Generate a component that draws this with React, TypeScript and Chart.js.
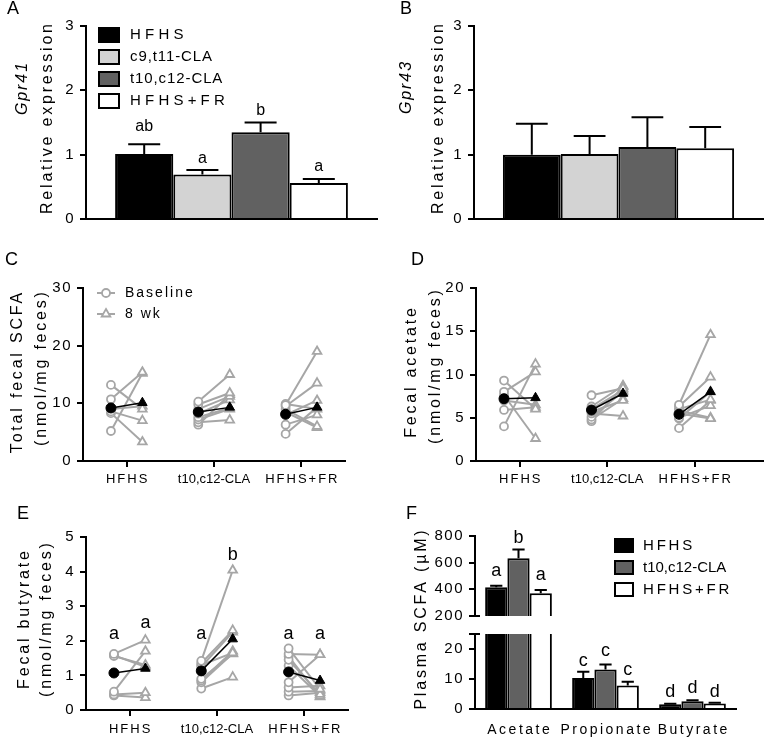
import React, { useEffect, useRef } from 'react';
import { Chart, registerables } from 'chart.js';

Chart.register(...registerables);

const FONT = '"Liberation Sans", Arial, Helvetica, sans-serif';
const INK = '#000000';
const SUBJECT_GREY = '#a6a6a6';
const OFFSET = 0.18;

// ---------- A & B: receptor expression ----------
const receptorGroups = ['HFHS', 'c9,t11-CLA', 't10,c12-CLA', 'HFHS+FR'];
const receptorColors = ['#000000', '#d3d3d3', '#616161', '#ffffff'];
const gpr41Mean = [1.01, 0.69, 1.35, 0.56];
const gpr41Sem = [0.15, 0.07, 0.15, 0.06];
const gpr41Letters = ['ab', 'a', 'b', 'a'];
const gpr41LetterY = [1.37, 0.87, 1.62, 0.74];
const gpr43Mean = [1.0, 1.01, 1.12, 1.1];
const gpr43Sem = [0.48, 0.28, 0.46, 0.33];
const expressionTicks = [0, 1, 2, 3];

// ---------- C, D, E: fecal SCFA, baseline vs 8 wk ----------
const fecalGroups = ['HFHS', 't10,c12-CLA', 'HFHS+FR'];
const timePoints = ['Baseline', '8 wk'];

const totalBaseline = [
  [13.2, 10.7, 8.6, 8.3, 5.2, 9.0],
  [10.3, 9.8, 9.0, 8.2, 7.6, 7.2, 6.7, 6.3],
  [9.7, 9.5, 8.0, 9.0, 6.3, 4.7, 8.5, 9.9],
];
const totalWeek8 = [
  [9.0, 15.4, 7.0, 3.3, 15.2, 9.5],
  [15.0, 11.8, 11.2, 10.6, 9.2, 9.0, 7.1, 11.5],
  [19.0, 13.5, 10.5, 6.0, 8.0, 9.3, 5.8, 9.0],
];
const totalMeanBaseline = [9.2, 8.5, 8.1];
const totalMeanWeek8 = [10.1, 9.3, 9.3];
const totalTicks = [0, 10, 20, 30];

const acetateBaseline = [
  [9.3, 8.0, 7.6, 5.9, 4.0, 7.0],
  [7.6, 6.3, 6.0, 5.7, 5.5, 5.1, 4.8, 4.6],
  [6.5, 6.3, 6.0, 5.5, 5.0, 3.8, 5.8, 4.9],
];
const acetateWeek8 = [
  [6.0, 10.3, 2.6, 6.2, 11.2, 6.5],
  [8.4, 8.7, 8.2, 7.0, 5.2, 8.0, 7.2, 8.6],
  [14.6, 9.7, 7.1, 4.9, 6.4, 7.0, 5.0, 8.0],
];
const acetateMeanBaseline = [7.2, 5.9, 5.4];
const acetateMeanWeek8 = [7.3, 7.8, 8.0];
const acetateTicks = [0, 5, 10, 15, 20];

const butyrateBaseline = [
  [1.62, 1.56, 0.53, 0.45, 0.42, 1.58],
  [1.42, 1.35, 1.3, 0.9, 0.85, 0.8, 0.62, 1.25],
  [1.78, 1.62, 1.45, 1.28, 0.8, 0.65, 0.53, 0.42, 1.55],
];
const butyrateWeek8 = [
  [2.02, 1.3, 1.7, 0.5, 0.36, 1.25],
  [4.04, 2.3, 1.65, 1.62, 1.7, 1.63, 0.95, 2.25],
  [0.6, 1.6, 0.45, 0.4, 1.6, 0.7, 0.55, 0.5, 0.38],
];
const butyrateMeanBaseline = [1.07, 1.13, 1.1];
const butyrateMeanWeek8 = [1.2, 2.05, 0.85];
const butyrateLetters = [['a', 'a'], ['a', 'b'], ['a', 'a']];
const butyrateLetterY = [[2.05, 2.37], [2.05, 4.33], [2.05, 2.05]];
const butyrateTicks = [0, 1, 2, 3, 4, 5];

// ---------- F: plasma SCFA ----------
const plasmaAcids = ['Acetate', 'Propionate', 'Butyrate'];
const plasmaGroups = ['HFHS', 't10,c12-CLA', 'HFHS+FR'];
const plasmaColors = ['#000000', '#616161', '#ffffff'];
const plasmaHFHS = [415, 10.3, 1.55];
const plasmaCLA = [633, 13.2, 2.6];
const plasmaFR = [370, 7.8, 1.85];
const plasmaSemHFHS = [11, 2.1, 0.2];
const plasmaSemCLA = [65, 1.6, 0.3];
const plasmaSemFR = [25, 1.3, 0.25];
const plasmaLettersHFHS = ['a', 'c', 'd'];
const plasmaLettersCLA = ['b', 'c', 'd'];
const plasmaLettersFR = ['a', 'c', 'd'];
const plasmaLetterYHFHS = [500, 14.4, 4.1];
const plasmaLetterYCLA = [747, 17.8, 5.4];
const plasmaLetterYFR = [470, 11.3, 4.1];
const plasmaHighTicks = [200, 400, 600, 800];
const plasmaLowTicks = [0, 10, 20];
const plasmaLowMax = 25;

const plasmaMeans = [plasmaHFHS, plasmaCLA, plasmaFR];
const plasmaSems = [plasmaSemHFHS, plasmaSemCLA, plasmaSemFR];
const plasmaLetters = [plasmaLettersHFHS, plasmaLettersCLA, plasmaLettersFR];
const plasmaLetterY = [plasmaLetterYHFHS, plasmaLetterYCLA, plasmaLetterYFR];

// ---------- drawing helpers ----------
type TextOpts = {
  size?: number;
  spacing?: number;
  align?: CanvasTextAlign;
  baseline?: CanvasTextBaseline;
  rotate?: boolean;
  italic?: boolean;
};

function drawText(ctx: any, s: string, x: number, y: number, o: TextOpts = {}) {
  const sp = o.spacing ?? 0;
  const align = o.align ?? 'left';
  ctx.save();
  ctx.font = `${o.italic ? 'italic ' : ''}${o.size ?? 15}px ${FONT}`;
  ctx.letterSpacing = `${sp}px`;
  ctx.fillStyle = INK;
  ctx.textAlign = align;
  ctx.textBaseline = o.baseline ?? 'middle';
  ctx.translate(x, y);
  if (o.rotate) ctx.rotate(-Math.PI / 2);
  const shift = align === 'center' ? sp / 2 : align === 'right' ? sp : 0;
  ctx.fillText(s, shift, 0);
  ctx.restore();
}

function drawSymbol(ctx: any, style: string, x: number, y: number, r: number, fill: string | null, stroke: string, lw: number) {
  ctx.save();
  ctx.beginPath();
  if (style === 'circle') ctx.arc(x, y, r, 0, Math.PI * 2);
  else {
    ctx.moveTo(x, y - r);
    ctx.lineTo(x + 0.866 * r, y + 0.5 * r);
    ctx.lineTo(x - 0.866 * r, y + 0.5 * r);
    ctx.closePath();
  }
  if (fill) {
    ctx.fillStyle = fill;
    ctx.fill();
  }
  ctx.strokeStyle = stroke;
  ctx.lineWidth = lw;
  ctx.stroke();
  ctx.restore();
}

function legendBox(ctx: any, x: number, y: number, w: number, h: number, color: string) {
  ctx.save();
  ctx.fillStyle = color;
  ctx.fillRect(x, y, w, h);
  ctx.strokeStyle = INK;
  ctx.lineWidth = 2;
  ctx.strokeRect(x + 1, y + 1, w - 2, h - 2);
  ctx.restore();
}

function hLine(ctx: any, x1: number, x2: number, y: number, color: string, lw: number) {
  ctx.save();
  ctx.strokeStyle = color;
  ctx.lineWidth = lw;
  ctx.beginPath();
  ctx.moveTo(x1, y);
  ctx.lineTo(x2, y);
  ctx.stroke();
  ctx.restore();
}

const spacingFor = (label: string, caps: number, mixed: number) => (/CLA/.test(label) ? mixed : caps);
const TITLE: TextOpts = { size: 16, spacing: 2.8, align: 'center', rotate: true };

// ---------- plugins ----------
const spacingPlugin = {
  id: 'tickSpacing',
  beforeDraw(chart: any) {
    chart.ctx.letterSpacing = '1.5px';
  },
};

const errorBarPlugin = {
  id: 'errorBars',
  afterDatasetsDraw(chart: any) {
    const { ctx, chartArea } = chart;
    const yScale = chart.scales.y;
    ctx.save();
    ctx.beginPath();
    ctx.rect(chartArea.left - 2, chartArea.top - 2, chartArea.right - chartArea.left + 4, chartArea.bottom - chartArea.top + 2);
    ctx.clip();
    ctx.strokeStyle = INK;
    ctx.lineWidth = 2;
    chart.data.datasets.forEach((ds: any, d: number) => {
      if (!ds.errors) return;
      const meta = chart.getDatasetMeta(d);
      meta.data.forEach((el: any, i: number) => {
        const v = ds.data[i];
        if (v == null) return;
        const top = yScale.getPixelForValue(v + ds.errors[i]);
        const w = el.width * 0.55;
        ctx.beginPath();
        ctx.moveTo(el.x, el.y);
        ctx.lineTo(el.x, top);
        ctx.moveTo(el.x - w / 2, top);
        ctx.lineTo(el.x + w / 2, top);
        ctx.stroke();
      });
    });
    ctx.restore();
  },
};

const sigPlugin = {
  id: 'sigLetters',
  afterDatasetsDraw(chart: any) {
    const y = chart.scales.y;
    chart.data.datasets.forEach((ds: any, d: number) => {
      if (!ds.sig) return;
      const meta = chart.getDatasetMeta(d);
      ds.sig.forEach((t: string, i: number) => {
        const v = ds.sigY[i];
        if (!t || v < y.min || v > y.max) return;
        drawText(chart.ctx, t, meta.data[i].x, y.getPixelForValue(v), {
          size: ds.sigSize,
          align: 'center',
          baseline: 'alphabetic',
        });
      });
    });
  },
};

// ---------- option builders ----------
function baseOptions(padding: any) {
  return {
    responsive: false,
    maintainAspectRatio: false,
    animation: false,
    events: [],
    layout: { padding, autoPadding: false },
    plugins: { legend: { display: false }, tooltip: { enabled: false }, title: { display: false } },
  };
}

function yAxis(min: number, max: number, ticks: number[], width: number) {
  return {
    type: 'linear',
    min,
    max,
    afterBuildTicks: (s: any) => {
      s.ticks = ticks.map((v) => ({ value: v }));
    },
    ticks: { color: INK, font: { family: FONT, size: 15 }, padding: 5 },
    grid: { display: true, drawOnChartArea: false, drawTicks: true, tickLength: 6, color: INK, lineWidth: 2 },
    border: { display: true, color: INK, width: 2 },
    afterFit: (s: any) => {
      s.width = width;
    },
  };
}

function hiddenCategoryAxis(height: number) {
  return {
    type: 'category',
    ticks: { display: false },
    grid: { display: false },
    border: { display: true, color: INK, width: 2 },
    afterFit: (s: any) => {
      s.height = height;
    },
  };
}

function groupAxis(xMax: number, height: number) {
  return {
    type: 'linear',
    min: 0.5,
    max: xMax,
    afterBuildTicks: (s: any) => {
      s.ticks = fecalGroups.map((_, i) => ({ value: i + 1 }));
    },
    ticks: { display: false },
    grid: { display: true, drawOnChartArea: false, drawTicks: true, tickLength: 6, color: INK, lineWidth: 2 },
    border: { display: true, color: INK, width: 2 },
    afterFit: (s: any) => {
      s.height = height;
    },
  };
}

// ---------- A / B ----------
function receptorConfig(p: any) {
  return {
    type: 'bar',
    data: {
      labels: [''],
      datasets: receptorGroups.map((g, i) => ({
        label: g,
        data: [p.means[i]],
        errors: [p.sems[i]],
        sig: p.letters ? [p.letters[i]] : null,
        sigY: p.letterY ? [p.letterY[i]] : null,
        sigSize: 16,
        backgroundColor: receptorColors[i],
        borderColor: INK,
        borderWidth: 2,
        borderSkipped: 'start',
        categoryPercentage: 0.8,
        barPercentage: 1,
      })),
    },
    options: {
      ...baseOptions({ top: 26, right: p.padRight, bottom: 0, left: 0 }),
      scales: { x: hiddenCategoryAxis(21), y: yAxis(0, 3, expressionTicks, p.yWidth) },
    },
    plugins: [spacingPlugin, errorBarPlugin, sigPlugin, { id: 'deco', afterDraw: p.deco }],
  };
}

// ---------- C / D / E ----------
function pairedDatasets(base: number[][], wk8: number[][], meanBase: number[], meanWk8: number[]) {
  const ds: any[] = [];
  meanBase.forEach((m, g) => {
    ds.push({
      data: [
        { x: g + 1 - OFFSET, y: m },
        { x: g + 1 + OFFSET, y: meanWk8[g] },
      ],
      borderColor: INK,
      borderWidth: 1.5,
      pointStyle: ['circle', 'triangle'],
      pointRadius: [5, 5.5],
      pointBackgroundColor: INK,
      pointBorderColor: INK,
      pointBorderWidth: 1,
      tension: 0,
      fill: false,
    });
  });
  base.forEach((vals, g) =>
    vals.forEach((v, i) => {
      ds.push({
        data: [
          { x: g + 1 - OFFSET, y: v },
          { x: g + 1 + OFFSET, y: wk8[g][i] },
        ],
        borderColor: SUBJECT_GREY,
        borderWidth: 2,
        pointStyle: ['circle', 'triangle'],
        pointRadius: [4, 5],
        pointBackgroundColor: '#ffffff',
        pointBorderColor: SUBJECT_GREY,
        pointBorderWidth: 1.8,
        tension: 0,
        fill: false,
      });
    })
  );
  return ds;
}

function drawGroupLabels(chart: any, y: number) {
  const x = chart.scales.x;
  fecalGroups.forEach((g, i) =>
    drawText(chart.ctx, g, x.getPixelForValue(i + 1), y, { size: 13, spacing: spacingFor(g, 2, 0), align: 'center' })
  );
}

function pairedConfig(p: any) {
  return {
    type: 'line',
    data: { datasets: pairedDatasets(p.base, p.wk8, p.meanBase, p.meanWk8) },
    options: {
      ...baseOptions(p.padding),
      scales: { x: groupAxis(p.xMax, p.xHeight), y: yAxis(0, p.ticks[p.ticks.length - 1], p.ticks, p.yWidth) },
    },
    plugins: [spacingPlugin, { id: 'deco', afterDraw: p.deco }],
  };
}

// ---------- F ----------
function plasmaDatasets(upper: boolean) {
  return plasmaGroups.map((g, i) => ({
    label: g,
    data: upper ? plasmaMeans[i].map((v) => (v >= plasmaHighTicks[0] ? v : null)) : plasmaMeans[i],
    errors: plasmaSems[i],
    sig: plasmaLetters[i],
    sigY: plasmaLetterY[i],
    sigSize: 18,
    backgroundColor: plasmaColors[i],
    borderColor: INK,
    borderWidth: 2,
    borderSkipped: 'start',
    categoryPercentage: 0.767,
    barPercentage: 1,
    clip: 0,
  }));
}

const PANELS = [
  { left: 0, top: 0, width: 383, height: 240 },
  { left: 383, top: 0, width: 383, height: 240 },
  { left: 0, top: 240, width: 383, height: 250 },
  { left: 383, top: 240, width: 383, height: 250 },
  { left: 0, top: 480, width: 383, height: 257 },
  { left: 383, top: 480, width: 383, height: 257 },
  { left: 383, top: 620, width: 383, height: 117 },
];

function buildConfigs(): any[] {
  const cfgA = receptorConfig({
    means: gpr41Mean,
    sems: gpr41Sem,
    letters: gpr41Letters,
    letterY: gpr41LetterY,
    yWidth: 86,
    padRight: 6,
    deco: (chart: any) => {
      const ctx = chart.ctx;
      drawText(ctx, 'A', 7, 9, { size: 18 });
      drawText(ctx, 'Gpr41', 23, 89, { ...TITLE, italic: true, spacing: 1.9 });
      drawText(ctx, 'Relative expression', 48, 119, TITLE);
      chart.data.datasets.forEach((ds: any, i: number) => {
        legendBox(ctx, 98, 27 + 22 * i, 22, 16, ds.backgroundColor);
        drawText(ctx, ds.label, 130, 35 + 22 * i, { size: 15, spacing: spacingFor(ds.label, 4.2, 0.9) });
      });
    },
  });

  const cfgB = receptorConfig({
    means: gpr43Mean,
    sems: gpr43Sem,
    letters: null,
    letterY: null,
    yWidth: 91,
    padRight: 3,
    deco: (chart: any) => {
      const ctx = chart.ctx;
      drawText(ctx, 'B', 17, 9, { size: 18 });
      drawText(ctx, 'Gpr43', 24, 88, { ...TITLE, italic: true, spacing: 1.9 });
      drawText(ctx, 'Relative expression', 56, 119, TITLE);
    },
  });

  const cfgC = pairedConfig({
    base: totalBaseline,
    wk8: totalWeek8,
    meanBase: totalMeanBaseline,
    meanWk8: totalMeanWeek8,
    ticks: totalTicks,
    yWidth: 83,
    xMax: 3.5,
    xHeight: 29,
    padding: { top: 48, right: 38, bottom: 0, left: 0 },
    deco: (chart: any) => {
      const ctx = chart.ctx;
      drawText(ctx, 'C', 5, 20, { size: 18 });
      drawText(ctx, 'Total fecal SCFA', 18, 133, TITLE);
      drawText(ctx, '(nmol/mg feces)', 42, 129, TITLE);
      timePoints.forEach((t, i) => {
        const y = 53 + 21 * i;
        hLine(ctx, 97, 115, y, SUBJECT_GREY, 2);
        drawSymbol(ctx, i === 0 ? 'circle' : 'triangle', 106, y, i === 0 ? 4 : 5, '#ffffff', SUBJECT_GREY, 1.8);
        drawText(ctx, t, 125, y, { size: 14, spacing: 2 });
      });
      drawGroupLabels(chart, 239);
    },
  });

  const cfgD = pairedConfig({
    base: acetateBaseline,
    wk8: acetateWeek8,
    meanBase: acetateMeanBaseline,
    meanWk8: acetateMeanWeek8,
    ticks: acetateTicks,
    yWidth: 93,
    xMax: 3.78,
    xHeight: 29,
    padding: { top: 48, right: 3, bottom: 0, left: 0 },
    deco: (chart: any) => {
      const ctx = chart.ctx;
      drawText(ctx, 'D', 28, 20, { size: 18 });
      drawText(ctx, 'Fecal acetate', 28.5, 133, TITLE);
      drawText(ctx, '(nmol/mg feces)', 52.5, 127, TITLE);
      drawGroupLabels(chart, 239.5);
    },
  });

  const cfgE = pairedConfig({
    base: butyrateBaseline,
    wk8: butyrateWeek8,
    meanBase: butyrateMeanBaseline,
    meanWk8: butyrateMeanWeek8,
    ticks: butyrateTicks,
    yWidth: 86,
    xMax: 3.5,
    xHeight: 27,
    padding: { top: 57, right: 35, bottom: 0, left: 0 },
    deco: (chart: any) => {
      const ctx = chart.ctx;
      const x = chart.scales.x;
      const y = chart.scales.y;
      drawText(ctx, 'E', 17, 34, { size: 18 });
      drawText(ctx, 'Fecal butyrate', 24.5, 140, TITLE);
      drawText(ctx, '(nmol/mg feces)', 47, 140, TITLE);
      butyrateLetters.forEach((pair, g) =>
        pair.forEach((t, k) => {
          const xv = g + 1 + (k === 0 ? -OFFSET : OFFSET);
          drawText(ctx, t, x.getPixelForValue(xv), y.getPixelForValue(butyrateLetterY[g][k]), {
            size: 18,
            align: 'center',
            baseline: 'alphabetic',
          });
        })
      );
      drawGroupLabels(chart, 249);
    },
  });

  const cfgF1 = {
    type: 'bar',
    data: { labels: plasmaAcids, datasets: plasmaDatasets(true) },
    options: {
      ...baseOptions({ top: 56, right: 30, bottom: 121, left: 0 }),
      scales: {
        x: { type: 'category', display: false },
        y: yAxis(plasmaHighTicks[0], plasmaHighTicks[plasmaHighTicks.length - 1], plasmaHighTicks, 92),
      },
    },
    plugins: [
      spacingPlugin,
      errorBarPlugin,
      sigPlugin,
      {
        id: 'deco',
        afterDraw: (chart: any) => {
          const ctx = chart.ctx;
          const a = chart.chartArea;
          drawText(ctx, 'F', 23, 34, { size: 18 });
          drawText(ctx, 'Plasma SCFA (\u00b5M)', 38.5, 140, TITLE);
          hLine(ctx, a.left - 6, a.left + 5, a.bottom, INK, 2);
          chart.data.datasets.forEach((ds: any, i: number) => {
            legendBox(ctx, 231, 58 + 22 * i, 20, 15, ds.backgroundColor);
            drawText(ctx, ds.label, 260, 66 + 22 * i, { size: 15, spacing: spacingFor(ds.label, 2.8, 0) });
          });
        },
      },
    ],
  };

  const cfgF2 = {
    type: 'bar',
    data: { labels: plasmaAcids, datasets: plasmaDatasets(false) },
    options: {
      ...baseOptions({ top: 9, right: 30, bottom: 0, left: 0 }),
      scales: {
        x: hiddenCategoryAxis(28),
        y: yAxis(0, plasmaLowMax, plasmaLowTicks, 92),
      },
    },
    plugins: [
      spacingPlugin,
      errorBarPlugin,
      sigPlugin,
      {
        id: 'deco',
        afterDraw: (chart: any) => {
          const ctx = chart.ctx;
          const a = chart.chartArea;
          const x = chart.scales.x;
          hLine(ctx, a.left - 6, a.left + 5, a.top, INK, 2);
          plasmaAcids.forEach((lab, i) =>
            drawText(ctx, lab, x.getPixelForValue(i), 110, { size: 14, spacing: 2.5, align: 'center' })
          );
        },
      },
    ],
  };

  return [cfgA, cfgB, cfgC, cfgD, cfgE, cfgF1, cfgF2];
}

export default function App() {
  const canvasRefs = useRef<(HTMLCanvasElement | null)[]>([]);

  useEffect(() => {
    const configs = buildConfigs();
    const charts = configs.map((cfg, i) => new Chart(canvasRefs.current[i] as HTMLCanvasElement, cfg));
    return () => charts.forEach((c) => c.destroy());
  }, []);

  return (
    <div style={{ position: 'absolute', left: 0, top: 0, width: 766, height: 737, background: '#ffffff' }}>
      {PANELS.map((b, i) => (
        <canvas
          key={i}
          ref={(el) => {
            canvasRefs.current[i] = el;
          }}
          width={b.width}
          height={b.height}
          style={{ position: 'absolute', left: b.left, top: b.top, width: b.width, height: b.height }}
        />
      ))}
    </div>
  );
}
